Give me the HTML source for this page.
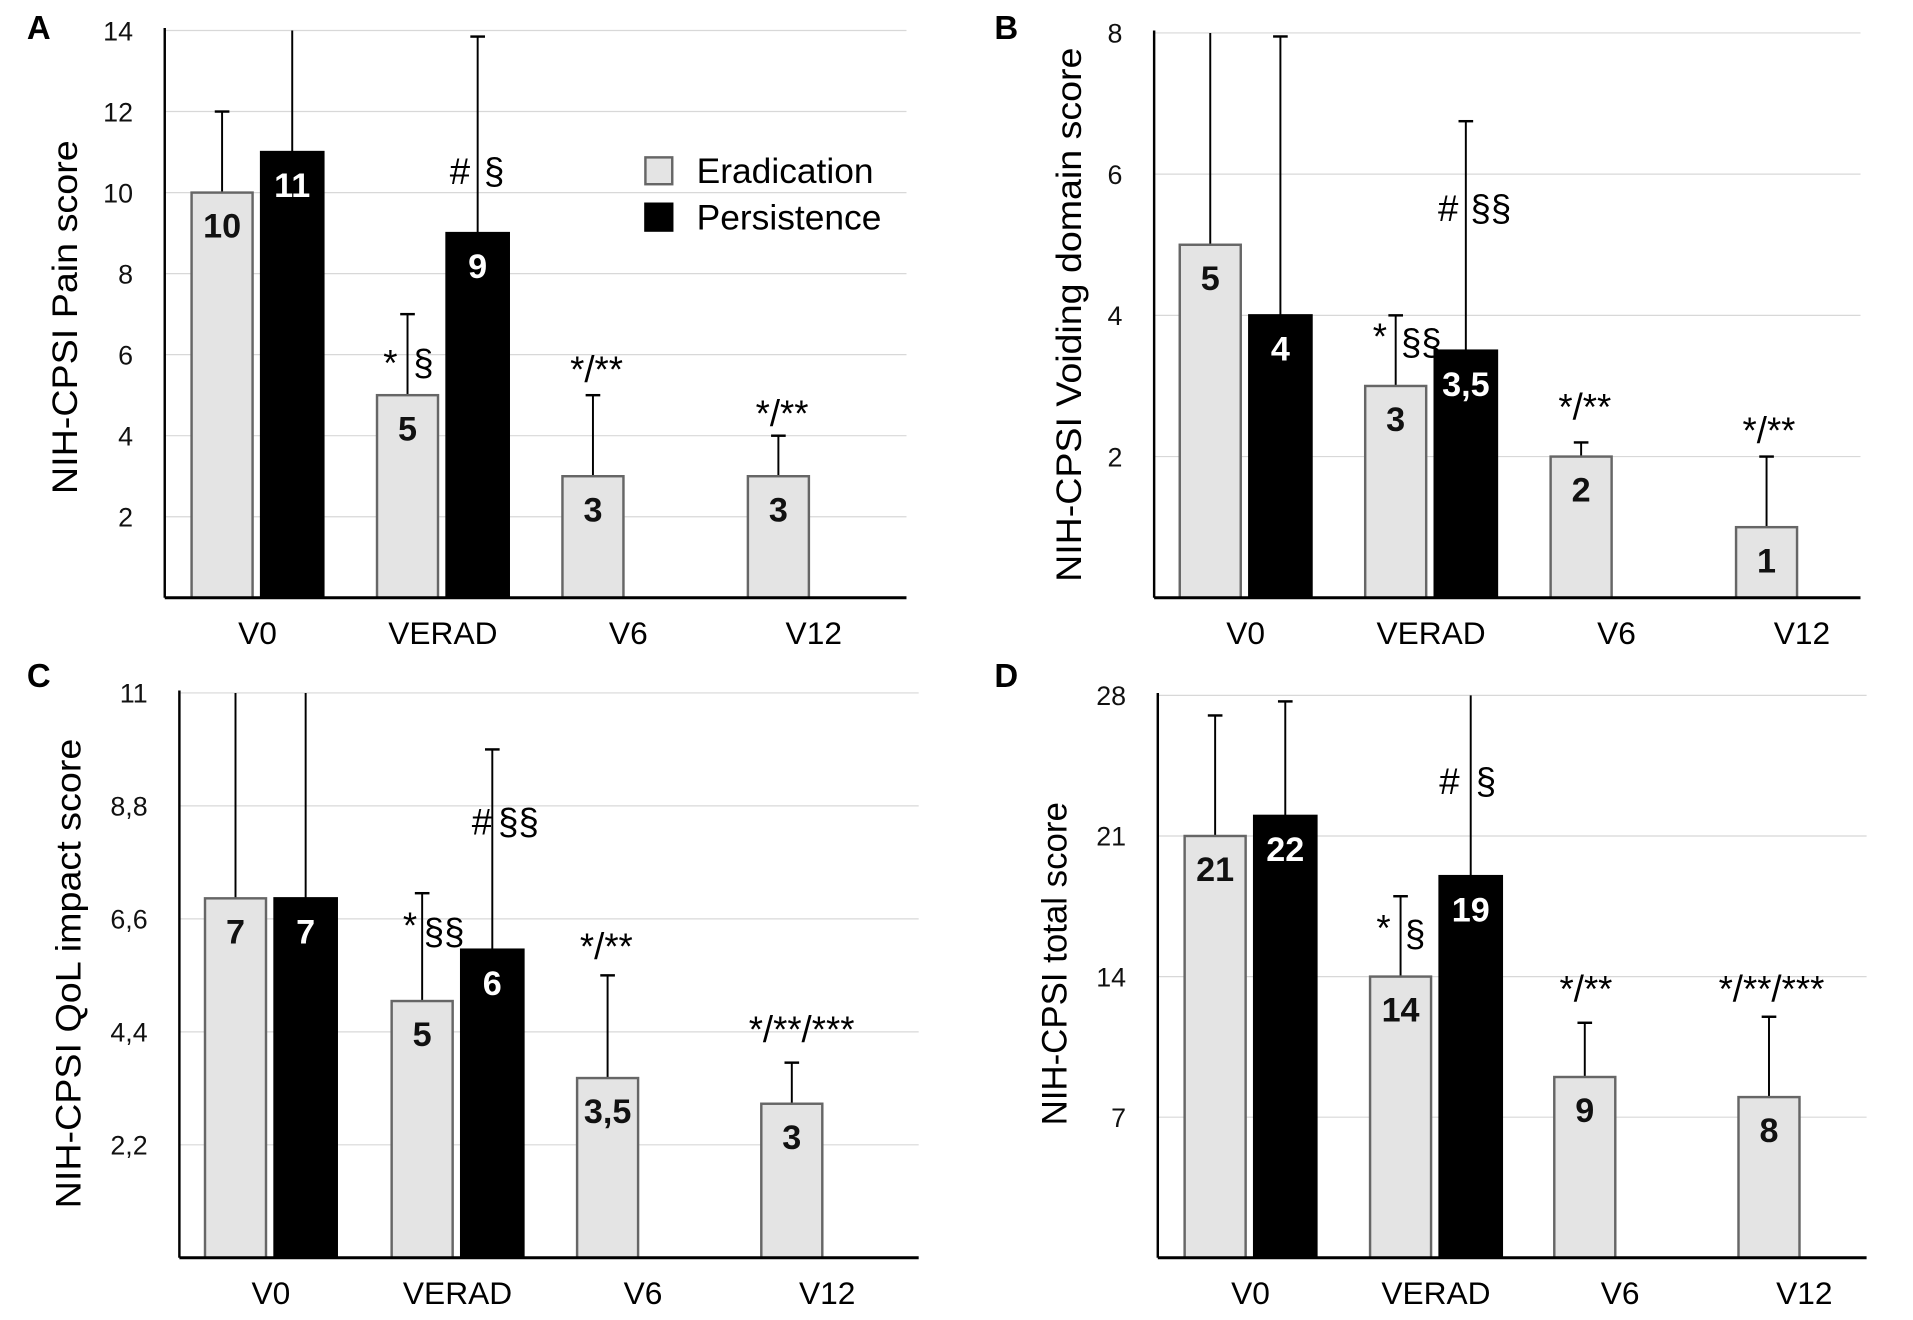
<!DOCTYPE html>
<html><head><meta charset="utf-8"><style>
html,body{margin:0;padding:0;background:#fff;}
svg{display:block;}
text{font-family:"Liberation Sans",Arial,sans-serif;}
</style></head>
<body>
<svg id="fig" width="1913" height="1320" viewBox="0 0 1568 1082" xmlns="http://www.w3.org/2000/svg"></svg>
<script>
const categories = ["V0","VERAD","V6","V12"];
const seriesNames = ["Eradication","Persistence"];
// Panel A
const aErad = [10,5,3,3];
const aPers = [11,9,null,null];
const aEradErr = [12,7,5,4];
const aPersErr = [14.5,13.85,null,null];
const aTicks = [2,4,6,8,10,12,14];
const aTickLabels = ["2","4","6","8","10","12","14"];
const aValLabels = [["10","5","3","3"],["11","9","",""]];
// Panel B
const bErad = [5,3,2,1];
const bPers = [4,3.5,null,null];
const bEradErr = [8.5,4,2.2,2];
const bPersErr = [7.95,6.75,null,null];
const bTicks = [2,4,6,8];
const bTickLabels = ["2","4","6","8"];
const bValLabels = [["5","3","2","1"],["4","3,5","",""]];
// Panel C
const cErad = [7,5,3.5,3];
const cPers = [7,6,null,null];
const cEradErr = [11.5,7.1,5.5,3.8];
const cPersErr = [11.5,9.9,null,null];
const cTicks = [2.2,4.4,6.6,8.8,11];
const cTickLabels = ["2,2","4,4","6,6","8,8","11"];
const cValLabels = [["7","5","3,5","3"],["7","6","",""]];
// Panel D
const dErad = [21,14,9,8];
const dPers = [22,19,null,null];
const dEradErr = [27,18,11.7,12];
const dPersErr = [27.7,29,null,null];
const dTicks = [7,14,21,28];
const dTickLabels = ["7","14","21","28"];
const dValLabels = [["21","14","9","8"],["22","19","",""]];

const NS="http://www.w3.org/2000/svg";
const svg=document.getElementById('fig');
function mk(tag,attrs,parent){const e=document.createElementNS(NS,tag);for(const k in attrs)e.setAttribute(k,attrs[k]);(parent||svg).appendChild(e);return e;}

const panels=[
 {id:'a',letter:'A',lx:22,ly:32,ax:135,right:743,top:25,bottom:490,max:14,cx:[211,363,515,667],title:'NIH-CPSI Pain score',tx:63,tc:260,tlen:290,
  erad:aErad,pers:aPers,ee:aEradErr,pe:aPersErr,ticks:aTicks,tl:aTickLabels,vl:aValLabels,legend:true,
  ann:[["#",377,140],["§",405,140],["*",320,297],["§",347,297],["*/**",489,302],["*/**",641,338]]},
 {id:'b',letter:'B',lx:815,ly:32,ax:946,right:1525,top:27,bottom:490,max:8,cx:[1021,1173,1325,1477],title:'NIH-CPSI Voiding domain score',tx:886,tc:258,tlen:438,
  erad:bErad,pers:bPers,ee:bEradErr,pe:bPersErr,ticks:bTicks,tl:bTickLabels,vl:bValLabels,
  ann:[["#",1187,170],["§§",1222,170],["*",1131,275],["§§",1165,280],["*/**",1299,333],["*/**",1450,352]]},
 {id:'c',letter:'C',lx:22,ly:563,ax:147,right:753,top:568,bottom:1031,max:11,cx:[222,375,527,678],title:'NIH-CPSI QoL impact score',tx:66,tc:798,tlen:385,
  erad:cErad,pers:cPers,ee:cEradErr,pe:cPersErr,ticks:cTicks,tl:cTickLabels,vl:cValLabels,
  ann:[["#",395,673],["§§",425,673],["*",336,758],["§§",364,763],["*/**",497,775],["*/**/***",657,843]]},
 {id:'d',letter:'D',lx:815,ly:563,ax:949,right:1530,top:570,bottom:1031,max:28,cx:[1025,1177,1328,1479],title:'NIH-CPSI total score',tx:874,tc:790,tlen:265,
  erad:dErad,pers:dPers,ee:dEradErr,pe:dPersErr,ticks:dTicks,tl:dTickLabels,vl:dValLabels,
  ann:[["#",1188,640],["§",1218,640],["*",1134,760],["§",1160,765],["*/**",1300,810],["*/**/***",1452,810]]}
];

panels.forEach(p=>{
 const g=mk('g',{});
 
 
 const y=v=>p.bottom-(Math.min(v,p.max)/p.max)*(p.bottom-p.top);
 const L=mk('text',{x:p.lx,y:p.ly,'font-size':27,'font-weight':'bold','font-family':'Liberation Serif, serif'},g);
 L.textContent=p.letter;
 
 
 p.ticks.forEach((t,i)=>{
  const gl=mk('line',{x1:p.ax,x2:p.right,y1:y(t),y2:y(t),stroke:'#d8d8d8','stroke-width':1},g);
  
  
  const tt=mk('text',{x:p.ax-26,y:y(t)+8,'font-size':22,'text-anchor':'end',fill:'#111'},g);
  tt.textContent=p.tl[i];
  
  
 });
 const yt=mk('text',{x:0,y:0,'font-size':29,'text-anchor':'middle',textLength:p.tlen,lengthAdjust:'spacingAndGlyphs',transform:`translate(${p.tx},${p.tc}) rotate(-90)`},g);
 yt.textContent=p.title;
 
 
 categories.forEach((c,i)=>{
  const cx=p.cx[i];
  const xl=mk('text',{x:cx,y:p.bottom+38,'font-size':26,'text-anchor':'middle'},g);
  xl.textContent=c;
  
  
  [[p.erad,p.ee,0],[p.pers,p.pe,1]].forEach(([vals,errs,s])=>{
   const v=vals[i]; if(v==null) return;
   const x0=s===0?cx-54:cx+3, w=s===0?50:51;
   const bx=x0+w/2;
   const e=errs[i];
   const el=mk('line',{x1:bx,x2:bx,y1:y(v),y2:y(e),stroke:'#000','stroke-width':1.6},g);
   
   
   if(e<=p.max){
    const cap=mk('line',{x1:bx-6,x2:bx+6,y1:y(e),y2:y(e),stroke:'#000','stroke-width':2},g);
    
    
   }
   const r=mk('rect',{x:x0,y:y(v),width:w,height:p.bottom-y(v),fill:s===0?'#e4e4e4':'#000',stroke:s===0?'#666':'#000','stroke-width':2},g);
   
   
   const vt=mk('text',{x:bx,y:y(v)+37,'font-size':28,'font-weight':'bold','text-anchor':'middle',fill:s===0?'#111':'#fff'},g);
   vt.textContent=p.vl[s][i];
   
   
  });
 });
 const ya=mk('line',{x1:p.ax,x2:p.ax,y1:p.top-2,y2:p.bottom,stroke:'#000','stroke-width':2},g);
 
 
 const xa=mk('line',{x1:p.ax,x2:p.right,y1:p.bottom,y2:p.bottom,stroke:'#000','stroke-width':2.5},g);
 
 
 p.ann.forEach(a=>{
  const t=mk('text',{x:a[1],y:a[2]+11,'font-size':30,'text-anchor':'middle','font-family':'Liberation Sans, sans-serif'},g);
  t.textContent=a[0];
  
  
 });
 if(p.legend){
  [['#e4e4e4','#666',140,'Eradication'],['#000','#000',178,'Persistence']].forEach(l=>{
   const lr=mk('rect',{x:529,y:l[2]-11,width:22,height:22,fill:l[0],stroke:l[1],'stroke-width':2},g);
   
   
   const lt=mk('text',{x:571,y:l[2]+10,'font-size':29},g);
   lt.textContent=l[3];
   
   
  });
 }
});
</script>
</body></html>
